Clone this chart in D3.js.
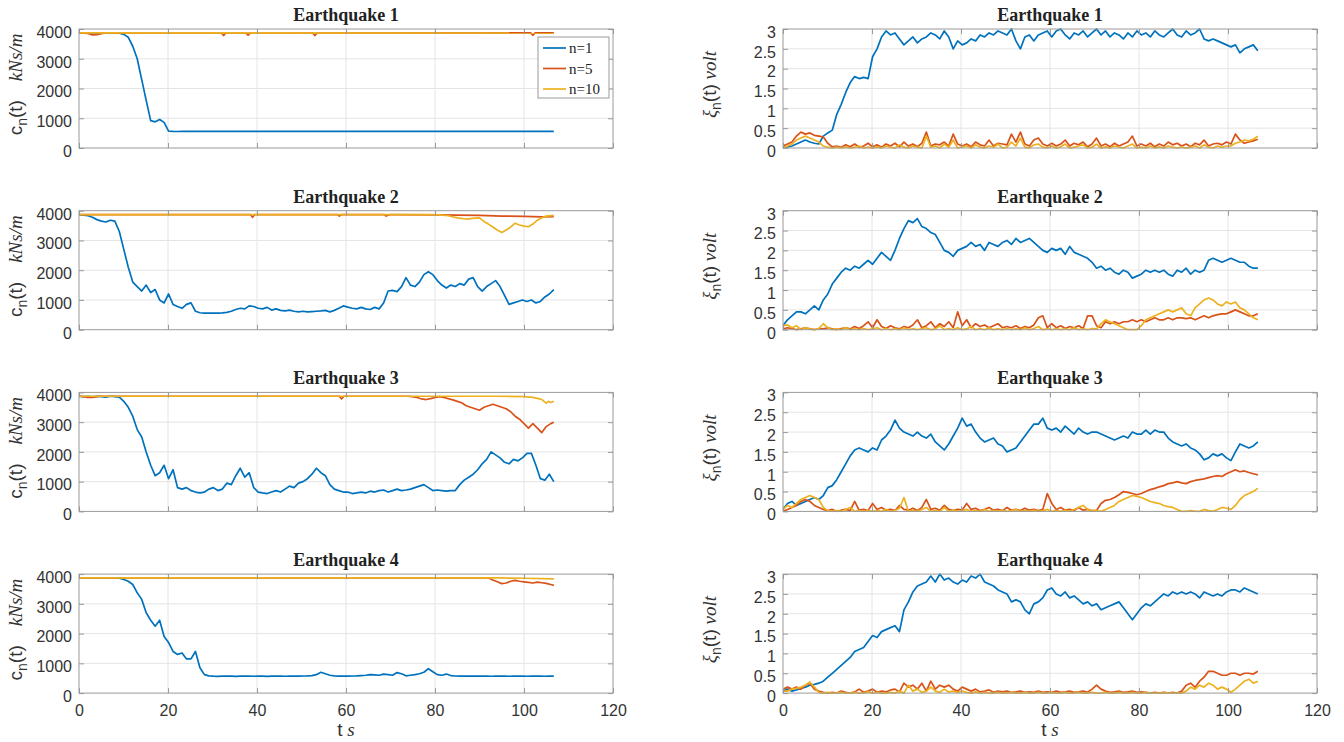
<!DOCTYPE html>
<meta charset="utf-8">
<title>Earthquake damping and voltage</title>
<style>
  body { margin: 0; background: #fff; }
  .gridline { stroke: #e4e4e4; stroke-width: 1px; }
  .frame { fill: none; stroke: #9a9a9a; stroke-width: 1px; }
  .ticklabel { font: 16px "Liberation Sans", Arial, sans-serif; fill: #333; }
  .title { font: bold 18px "Liberation Serif", serif; fill: #222; }
  .series { fill: none; stroke-width: 1.7px; stroke-linejoin: round; }
  .ylab, .xlab { font-size: 19px; fill: #333; }
  .sans { font-family: "Liberation Sans", Arial, sans-serif; }
  .mathit { font-family: "Liberation Serif", serif; font-style: italic; }
  .sub { font-size: 14px; }
  .legend text { font: 15px "Liberation Serif", serif; fill: #222; }
</style>
<svg width="1344" height="742"></svg>
<script src="https://d3js.org/d3.v7.min.js"></script>
<script>
// sampled about once a second, last sample at ~106.7 s
var T_END = 106.7;

var quakes = ["Earthquake 1", "Earthquake 2", "Earthquake 3", "Earthquake 4"];
var seriesNames = ["n=1", "n=5", "n=10"];
var seriesColors = ["#0072BD", "#D95319", "#EDB120"];
var xTicks = [0, 20, 40, 60, 80, 100, 120];
var cTicks = [0, 1000, 2000, 3000, 4000];
var xiTicks = [0, 0.5, 1, 1.5, 2, 2.5, 3];

// ---- damping c_n(t), kNs/m ----
var c1n1 = [3870,3868,3872,3866,3870,3862,3872,3866,3870,3858,
  3820,3720,3420,3000,2300,1600,920,880,960,860,
  570,560,555,560,558,562,556,560,558,560,
  560,558,561,559,560,557,562,559,560,558,
  560,558,561,559,560,557,562,559,560,558,
  560,558,561,559,560,557,562,559,560,558,
  560,558,561,559,560,557,562,559,560,558,
  560,558,561,559,560,557,562,559,560,558,
  560,558,561,559,560,557,562,559,560,558,
  560,558,561,559,560,557,562,559,560,558,
  560,558,561,559,560,557,560];
var c1n5 = [[0,3870],[2,3850],[3,3800],[4,3810],[5,3840],[6,3870],[32,3870],[32.5,3780],[33,3870],
  [37.5,3870],[38,3790],[38.5,3870],[52.5,3870],[53,3780],[53.5,3870],[101.5,3870],[102,3790],[102.5,3870],[106.7,3870]];
var c1n10 = [[0,3870],[106.7,3866]];

var c2n1 = [3870,3850,3830,3780,3700,3650,3620,3680,3650,3300,
  2700,2100,1600,1450,1300,1500,1250,1350,1000,900,
  1200,850,780,720,850,900,620,570,560,555,
  555,560,565,580,620,680,720,700,800,780,
  720,700,750,660,700,650,630,660,620,600,
  620,600,610,620,630,650,600,650,720,800,
  760,720,700,750,700,680,750,700,900,1300,
  1320,1280,1450,1750,1500,1450,1600,1850,1950,1850,
  1650,1500,1400,1500,1450,1550,1500,1700,1750,1450,
  1300,1450,1550,1650,1450,1150,850,900,950,1000,
  950,1000,900,950,1100,1200,1350];
var c2n5 = [[0,3870],[38.5,3870],[39,3780],[39.5,3870],[58,3870],[58.5,3820],[59,3870],[68.5,3870],[69,3820],
  [70,3870],[80,3860],[85,3850],[90,3840],[95,3820],[100,3810],[104,3790],[106.7,3800]];
var c2n10 = [[0,3870],[80,3870],[81,3860],[83,3830],[85,3760],[87,3720],[89,3750],[90,3760],[91,3640],
  [92,3550],[93,3450],[94,3350],[95,3270],[96,3350],[97,3450],[98,3580],[99,3520],[100,3480],[101,3460],
  [102,3550],[103,3680],[104,3760],[105,3820],[106.7,3840]];

var c3n1 = [3870,3860,3870,3850,3870,3860,3840,3870,3860,3840,
  3700,3500,3200,2750,2500,2000,1550,1200,1300,1550,
  1100,1400,800,750,800,700,650,620,650,750,
  800,700,750,950,900,1200,1450,1150,1300,800,
  650,620,600,650,700,650,750,850,800,950,
  1000,1100,1250,1450,1300,1200,900,750,700,650,
  650,600,620,650,620,680,650,700,720,650,
  700,750,700,720,750,800,850,900,800,700,
  720,700,680,700,700,900,1050,1150,1250,1400,
  1600,1750,2000,1900,1800,1650,1600,1750,1700,1800,
  1950,1950,1550,1100,1050,1250,1000];
var c3n5 = [[0,3870],[1,3860],[2,3830],[3,3830],[4,3860],[5,3870],[58.5,3870],[59,3780],[59.5,3870],[74,3870],
  [76,3830],[77,3780],[78,3760],[79,3790],[80,3830],[81,3860],[82,3830],[84,3750],[85,3700],[86,3650],
  [87,3550],[88,3500],[89,3450],[90,3400],[91,3500],[92,3550],[93,3600],[94,3550],[95,3500],[96,3450],
  [97,3350],[98,3200],[99,3100],[100,2950],[101,2800],[102,2950],[103,2800],[104,2650],[105,2850],
  [106,2950],[106.7,3000]];
var c3n10 = [[0,3870],[94,3870],[100,3860],[102,3830],[103,3800],[104,3760],[105,3640],[105.5,3700],
  [106,3660],[106.7,3700]];

var c4n1 = [3870,3870,3868,3870,3866,3870,3868,3870,3865,3860,
  3820,3760,3650,3370,3150,2700,2450,2250,2450,1900,
  1700,1400,1300,1350,1150,1150,1400,850,620,580,
  570,565,570,568,570,565,570,568,570,566,
  570,568,565,570,568,570,566,570,568,570,
  575,580,590,620,700,650,600,580,570,575,
  570,575,580,590,600,620,610,600,640,620,
  600,690,650,580,600,620,650,700,820,720,
  620,600,640,590,575,570,568,570,572,570,
  568,570,566,570,568,570,566,570,568,570,
  566,570,568,570,566,570,568];
var c4n5 = [[0,3870],[92,3870],[93,3800],[94,3740],[95,3680],[96,3700],[97,3760],[98,3790],[99,3760],
  [100,3740],[101,3720],[102,3700],[103,3730],[104,3710],[105,3690],[106,3650],[106.7,3620]];
var c4n10 = [[0,3870],[95,3870],[100,3860],[106.7,3840]];

// ---- voltage xi_n(t), volt ----
var x1n1 = [0.02,0.03,0.05,0.1,0.15,0.2,0.15,0.12,0.1,0.3,
  0.38,0.45,0.85,1.1,1.4,1.65,1.8,1.75,1.78,1.75,
  2.3,2.5,2.8,2.95,2.85,2.9,2.75,2.6,2.7,2.8,
  2.65,2.75,2.8,2.9,2.85,2.75,2.95,2.8,2.5,2.7,
  2.6,2.65,2.75,2.7,2.85,2.8,2.9,2.85,2.95,2.9,
  2.85,3.0,2.7,2.5,2.8,2.85,2.7,2.85,2.9,2.95,
  2.8,2.95,3.0,2.85,2.75,2.9,2.85,2.95,2.8,2.9,
  3.0,2.85,2.95,2.8,2.9,2.85,2.75,2.9,2.8,2.95,
  2.85,2.9,2.8,2.95,2.85,2.8,2.9,3.0,2.85,2.8,
  2.95,2.85,2.9,3.0,2.75,2.7,2.75,2.7,2.65,2.6,
  2.55,2.6,2.4,2.5,2.55,2.6,2.45];
var x1n5 = [0.05,0.1,0.15,0.3,0.4,0.35,0.38,0.32,0.3,0.28,
  0.12,0.03,0.05,0.02,0.08,0.03,0.1,0.02,0.05,0.12,
  0.03,0.08,0.02,0.1,0.05,0.12,0.03,0.15,0.05,0.1,
  0.03,0.12,0.4,0.05,0.1,0.08,0.15,0.05,0.35,0.1,
  0.05,0.1,0.03,0.15,0.08,0.05,0.2,0.05,0.12,0.1,
  0.08,0.35,0.15,0.4,0.1,0.05,0.2,0.25,0.1,0.05,
  0.12,0.05,0.1,0.2,0.05,0.12,0.08,0.15,0.03,0.1,
  0.25,0.05,0.1,0.03,0.12,0.05,0.1,0.15,0.3,0.05,
  0.1,0.05,0.12,0.03,0.1,0.05,0.15,0.08,0.12,0.05,
  0.1,0.03,0.12,0.08,0.2,0.05,0.1,0.12,0.08,0.15,
  0.1,0.35,0.2,0.12,0.15,0.18,0.22];
var x1n10 = [0.0,0.05,0.1,0.2,0.25,0.3,0.25,0.2,0.15,0.05,
  0.02,0.0,0.02,0.0,0.03,0.0,0.02,0.05,0.0,0.02,
  0.0,0.03,0.0,0.05,0.02,0.0,0.08,0.02,0.0,0.05,
  0.02,0.0,0.3,0.02,0.05,0.0,0.1,0.02,0.2,0.0,
  0.03,0.05,0.0,0.08,0.02,0.0,0.05,0.02,0.1,0.0,
  0.02,0.15,0.05,0.25,0.02,0.0,0.08,0.1,0.02,0.0,
  0.05,0.0,0.03,0.1,0.0,0.02,0.05,0.08,0.0,0.02,
  0.1,0.0,0.03,0.0,0.05,0.02,0.0,0.05,0.1,0.0,
  0.02,0.0,0.05,0.0,0.03,0.0,0.05,0.02,0.0,0.03,
  0.0,0.02,0.05,0.0,0.08,0.02,0.0,0.05,0.02,0.05,
  0.05,0.12,0.15,0.2,0.18,0.22,0.3];

var x2n1 = [0.1,0.25,0.35,0.45,0.45,0.4,0.5,0.6,0.5,0.75,
  0.9,1.15,1.3,1.45,1.55,1.5,1.6,1.55,1.65,1.75,
  1.65,1.8,1.95,1.85,1.75,2.0,2.3,2.55,2.75,2.7,
  2.8,2.6,2.55,2.45,2.4,2.2,2.0,1.95,1.85,2.0,
  2.05,2.1,2.2,2.1,2.15,2.0,2.2,2.15,2.1,2.2,
  2.25,2.15,2.3,2.2,2.25,2.3,2.2,2.1,2.0,1.95,
  2.05,2.0,2.05,1.9,2.1,1.95,1.9,1.85,1.8,1.7,
  1.55,1.6,1.5,1.55,1.45,1.4,1.5,1.45,1.3,1.35,
  1.4,1.5,1.45,1.5,1.45,1.5,1.4,1.35,1.5,1.45,
  1.55,1.4,1.5,1.45,1.5,1.75,1.8,1.75,1.7,1.75,
  1.8,1.75,1.7,1.7,1.6,1.55,1.55];
var x2n5 = [0.02,0.05,0.03,0.0,0.02,0.05,0.02,0.0,0.03,0.02,
  0.05,0.02,0.0,0.03,0.05,0.02,0.08,0.03,0.1,0.2,
  0.05,0.25,0.08,0.03,0.1,0.05,0.02,0.08,0.05,0.12,
  0.25,0.05,0.1,0.2,0.05,0.15,0.08,0.2,0.05,0.45,
  0.1,0.25,0.05,0.15,0.08,0.12,0.05,0.1,0.15,0.05,
  0.08,0.05,0.1,0.03,0.08,0.05,0.12,0.3,0.35,0.05,
  0.15,0.05,0.1,0.03,0.08,0.05,0.1,0.03,0.35,0.35,
  0.1,0.05,0.2,0.15,0.2,0.15,0.2,0.2,0.25,0.2,
  0.25,0.2,0.25,0.3,0.25,0.25,0.3,0.25,0.3,0.3,
  0.28,0.3,0.25,0.3,0.35,0.3,0.35,0.38,0.4,0.4,
  0.45,0.5,0.45,0.4,0.35,0.35,0.4];
var x2n10 = [0.1,0.12,0.05,0.1,0.0,0.05,0.02,0.0,0.03,0.15,
  0.05,0.0,0.02,0.0,0.05,0.0,0.02,0.0,0.03,0.0,
  0.02,0.05,0.0,0.03,0.0,0.02,0.0,0.05,0.0,0.02,
  0.0,0.03,0.05,0.0,0.02,0.1,0.0,0.03,0.0,0.05,
  0.0,0.02,0.08,0.0,0.03,0.0,0.05,0.0,0.02,0.0,
  0.03,0.0,0.02,0.0,0.05,0.0,0.03,0.08,0.0,0.02,
  0.0,0.03,0.0,0.02,0.0,0.05,0.0,0.02,0.0,0.03,
  0.02,0.15,0.25,0.2,0.15,0.1,0.05,0.0,0.0,0.0,
  0.1,0.25,0.3,0.35,0.4,0.45,0.5,0.45,0.5,0.55,
  0.4,0.35,0.55,0.65,0.75,0.8,0.75,0.65,0.6,0.7,
  0.65,0.7,0.55,0.5,0.4,0.3,0.25];

var x3n1 = [0.05,0.2,0.25,0.15,0.2,0.25,0.3,0.35,0.3,0.4,
  0.6,0.65,0.8,1.0,1.2,1.4,1.55,1.6,1.55,1.5,
  1.6,1.55,1.8,1.9,2.05,2.3,2.1,2.0,1.95,1.9,
  2.0,1.9,1.85,1.95,1.75,1.65,1.55,1.7,1.9,2.1,
  2.35,2.15,2.2,2.0,1.85,1.75,1.8,1.85,1.7,1.65,
  1.5,1.55,1.6,1.75,1.9,2.05,2.2,2.2,2.35,2.1,
  2.05,2.1,2.0,2.15,2.05,1.95,2.1,2.0,1.95,2.0,
  2.0,1.95,1.9,1.85,1.8,1.85,1.9,1.85,2.0,1.95,
  1.95,2.05,1.95,2.05,2.0,2.0,1.85,1.75,1.7,1.65,
  1.7,1.6,1.55,1.45,1.3,1.35,1.45,1.4,1.45,1.35,
  1.28,1.5,1.7,1.65,1.6,1.65,1.75];
var x3n5 = [0.0,0.05,0.1,0.15,0.25,0.3,0.25,0.15,0.1,0.05,
  0.02,0.05,0.0,0.03,0.05,0.02,0.25,0.03,0.05,0.02,
  0.2,0.05,0.1,0.03,0.05,0.02,0.15,0.05,0.03,0.08,
  0.02,0.1,0.3,0.05,0.08,0.03,0.15,0.05,0.02,0.05,
  0.03,0.2,0.05,0.08,0.02,0.05,0.1,0.03,0.05,0.02,
  0.1,0.03,0.05,0.02,0.08,0.03,0.05,0.02,0.05,0.45,
  0.2,0.05,0.1,0.03,0.05,0.02,0.1,0.03,0.05,0.02,
  0.02,0.2,0.28,0.3,0.35,0.42,0.5,0.48,0.45,0.42,
  0.45,0.5,0.55,0.58,0.62,0.65,0.7,0.72,0.75,0.72,
  0.7,0.75,0.78,0.8,0.82,0.85,0.88,0.9,0.88,0.95,
  1.0,1.05,1.0,1.02,0.98,0.95,0.92];
var x3n10 = [0.05,0.15,0.1,0.2,0.3,0.35,0.4,0.35,0.3,0.1,
  0.02,0.0,0.02,0.0,0.05,0.1,0.0,0.02,0.0,0.03,
  0.0,0.02,0.0,0.05,0.0,0.02,0.08,0.35,0.0,0.02,
  0.0,0.05,0.1,0.0,0.02,0.0,0.1,0.0,0.03,0.0,
  0.02,0.05,0.0,0.02,0.0,0.05,0.0,0.02,0.0,0.03,
  0.0,0.02,0.05,0.0,0.02,0.0,0.03,0.0,0.02,0.05,
  0.0,0.02,0.0,0.03,0.0,0.05,0.1,0.15,0.05,0.02,
  0.02,0.0,0.05,0.1,0.15,0.25,0.3,0.35,0.4,0.38,
  0.35,0.3,0.25,0.22,0.2,0.15,0.12,0.1,0.05,0.0,
  0.0,0.02,0.0,0.0,0.05,0.02,0.0,0.05,0.1,0.08,
  0.05,0.15,0.3,0.4,0.45,0.5,0.58];

var x4n1 = [0.05,0.1,0.05,0.08,0.12,0.15,0.2,0.22,0.25,0.3,
  0.4,0.5,0.6,0.7,0.8,0.9,1.05,1.1,1.15,1.3,
  1.45,1.4,1.55,1.6,1.65,1.7,1.55,2.1,2.3,2.55,
  2.7,2.75,2.8,2.95,2.8,3.0,2.85,2.9,2.8,2.75,
  2.85,2.8,2.95,2.9,3.0,2.8,2.75,2.7,2.6,2.55,
  2.5,2.3,2.35,2.3,2.1,2.0,2.25,2.3,2.4,2.6,
  2.65,2.5,2.45,2.55,2.4,2.45,2.35,2.25,2.3,2.2,
  2.25,2.1,2.15,2.2,2.25,2.3,2.15,2.0,1.85,2.0,
  2.15,2.25,2.2,2.3,2.4,2.5,2.45,2.55,2.5,2.55,
  2.5,2.55,2.5,2.4,2.55,2.5,2.45,2.5,2.45,2.55,
  2.6,2.6,2.55,2.65,2.6,2.55,2.5];
var x4n5 = [0.1,0.15,0.1,0.15,0.1,0.2,0.25,0.1,0.05,0.02,
  0.0,0.02,0.0,0.05,0.02,0.0,0.03,0.1,0.02,0.05,
  0.1,0.02,0.05,0.03,0.08,0.1,0.03,0.25,0.15,0.2,
  0.1,0.25,0.05,0.3,0.1,0.2,0.15,0.2,0.1,0.05,
  0.15,0.1,0.05,0.1,0.03,0.05,0.08,0.02,0.05,0.03,
  0.05,0.02,0.03,0.05,0.02,0.03,0.02,0.05,0.02,0.03,
  0.02,0.05,0.02,0.03,0.05,0.02,0.03,0.05,0.02,0.1,
  0.2,0.1,0.05,0.02,0.03,0.05,0.02,0.03,0.05,0.02,
  0.03,0.02,0.0,0.02,0.0,0.02,0.0,0.02,0.0,0.05,
  0.2,0.25,0.15,0.3,0.4,0.55,0.55,0.5,0.45,0.45,
  0.5,0.5,0.45,0.5,0.5,0.48,0.55];
var x4n10 = [0.05,0.05,0.1,0.12,0.15,0.2,0.28,0.15,0.02,0.0,
  0.02,0.0,0.0,0.02,0.0,0.0,0.02,0.0,0.0,0.03,
  0.0,0.02,0.0,0.0,0.02,0.0,0.05,0.0,0.2,0.05,
  0.1,0.02,0.05,0.15,0.05,0.02,0.1,0.03,0.05,0.02,
  0.05,0.02,0.0,0.03,0.0,0.02,0.0,0.0,0.02,0.0,
  0.0,0.02,0.0,0.0,0.02,0.0,0.0,0.02,0.0,0.0,
  0.02,0.0,0.0,0.02,0.0,0.0,0.02,0.0,0.0,0.02,
  0.0,0.0,0.02,0.0,0.0,0.02,0.0,0.0,0.02,0.0,
  0.0,0.02,0.0,0.0,0.0,0.02,0.0,0.0,0.0,0.0,
  0.05,0.15,0.1,0.2,0.15,0.25,0.2,0.1,0.15,0.1,
  0.02,0.1,0.2,0.3,0.35,0.25,0.3];

var cData = [[c1n1, c1n5, c1n10], [c2n1, c2n5, c2n10], [c3n1, c3n5, c3n10], [c4n1, c4n5, c4n10]];
var xiData = [[x1n1, x1n5, x1n10], [x2n1, x2n5, x2n10], [x3n1, x3n5, x3n10], [x4n1, x4n5, x4n10]];

// ---- layout ----
var svg = d3.select("svg");
var cols = [{ x0: 79, x1: 613, labelX: 22 }, { x0: 783, x1: 1317, labelX: 716 }];
var rowStep = 181.7, firstTop = 29, plotH = 119;

// dense arrays are one value per sample, pairs are [t, value]
function toPoints(d) {
  if (typeof d[0] === "number") return d.map(function (v, i) { return [i * T_END / (d.length - 1), v]; });
  return d;
}

function yLabel(g, xb, yc, kind) {
  var t = g.append("text")
    .attr("class", "ylab")
    .attr("text-anchor", "middle")
    .attr("transform", "translate(" + xb + "," + yc + ") rotate(-90)");
  if (kind === "c") t.append("tspan").attr("class", "sans").text("c");
  else t.append("tspan").attr("class", "mathit").text("ξ");
  t.append("tspan").attr("class", "sans sub").attr("dy", 5).text("n");
  t.append("tspan").attr("class", "sans").attr("dy", -5).text("(t)");
  t.append("tspan").attr("class", "mathit").attr("xml:space", "preserve")
    .text(kind === "c" ? "\u2003kNs/m" : " volt");
}

function panel(ci, row, yDomain, yTicks, data, kind) {
  var col = cols[ci];
  var top = firstTop + row * rowStep, bottom = top + plotH;
  var x = d3.scaleLinear().domain([0, 120]).range([col.x0, col.x1]);
  var y = d3.scaleLinear().domain(yDomain).range([bottom, top]);
  var g = svg.append("g");

  // grid
  g.append("g").selectAll("line").data(xTicks.slice(1, -1)).join("line")
    .attr("class", "gridline")
    .attr("x1", function (d) { return x(d); }).attr("x2", function (d) { return x(d); })
    .attr("y1", top).attr("y2", bottom);
  g.append("g").selectAll("line").data(yTicks.slice(1, -1)).join("line")
    .attr("class", "gridline")
    .attr("y1", function (d) { return y(d); }).attr("y2", function (d) { return y(d); })
    .attr("x1", col.x0).attr("x2", col.x1);

  var clipId = "clip" + ci + row;
  g.append("clipPath").attr("id", clipId).append("rect")
    .attr("x", col.x0).attr("y", top - 1).attr("width", col.x1 - col.x0).attr("height", plotH + 2);

  var line = d3.line().x(function (p) { return x(p[0]); }).y(function (p) { return y(p[1]); });
  g.append("g").attr("clip-path", "url(#" + clipId + ")")
    .selectAll("path").data(data).join("path")
    .attr("class", "series")
    .attr("stroke", function (d, i) { return seriesColors[i]; })
    .attr("d", function (d) { return line(toPoints(d)); });

  // axes with inward ticks on all four sides
  var fmt = function (d) { return String(d); };
  var left = g.append("g").attr("transform", "translate(" + col.x0 + ",0)")
    .call(d3.axisLeft(y).tickValues(yTicks).tickSize(-5).tickPadding(7).tickFormat(fmt));
  left.selectAll("text").attr("class", "ticklabel").attr("dy", "0.52em");
  var rightAx = g.append("g").attr("transform", "translate(" + col.x1 + ",0)")
    .call(d3.axisRight(y).tickValues(yTicks).tickSize(-5).tickFormat(""));
  var bottomAx = g.append("g").attr("transform", "translate(0," + bottom + ")")
    .call(d3.axisBottom(x).tickValues(xTicks).tickSize(-5).tickPadding(12)
      .tickFormat(row === 3 ? fmt : ""));
  bottomAx.selectAll("text").attr("class", "ticklabel");
  var topAx = g.append("g").attr("transform", "translate(0," + top + ")")
    .call(d3.axisTop(x).tickValues(xTicks).tickSize(-5).tickFormat(""));
  [left, rightAx, bottomAx, topAx].forEach(function (a) {
    a.attr("color", "#9a9a9a");
    a.select(".domain").remove();
  });

  g.append("rect").attr("class", "frame")
    .attr("x", col.x0).attr("y", top).attr("width", col.x1 - col.x0).attr("height", plotH);

  g.append("text").attr("class", "title")
    .attr("x", (col.x0 + col.x1) / 2).attr("y", top - 8)
    .attr("text-anchor", "middle").text(quakes[row]);

  yLabel(g, col.labelX, top + plotH / 2 - 4, kind);

  if (row === 3) {
    var xl = g.append("text").attr("class", "xlab")
      .attr("x", (col.x0 + col.x1) / 2).attr("y", 736).attr("text-anchor", "middle");
    xl.append("tspan").attr("class", "sans").text("t");
    xl.append("tspan").attr("class", "mathit").attr("xml:space", "preserve").text(" s");
  }

  if (ci === 0 && row === 0) {
    var lg = g.append("g").attr("class", "legend").attr("transform", "translate(538,37)");
    lg.append("rect").attr("width", 71).attr("height", 61)
      .attr("fill", "#fff").attr("stroke", "#9a9a9a");
    var it = lg.selectAll("g.item").data(seriesNames).join("g").attr("class", "item")
      .attr("transform", function (d, i) { return "translate(0," + (11 + i * 20.5) + ")"; });
    it.append("line").attr("x1", 5).attr("x2", 28)
      .attr("stroke", function (d, i) { return seriesColors[i]; }).attr("stroke-width", 1.7);
    it.append("text").attr("x", 31).attr("y", 5).text(function (d) { return d; });
  }
}

for (var r = 0; r < 4; r++) {
  panel(0, r, [0, 4000], cTicks, cData[r], "c");
  panel(1, r, [0, 3], xiTicks, xiData[r], "xi");
}
</script>
